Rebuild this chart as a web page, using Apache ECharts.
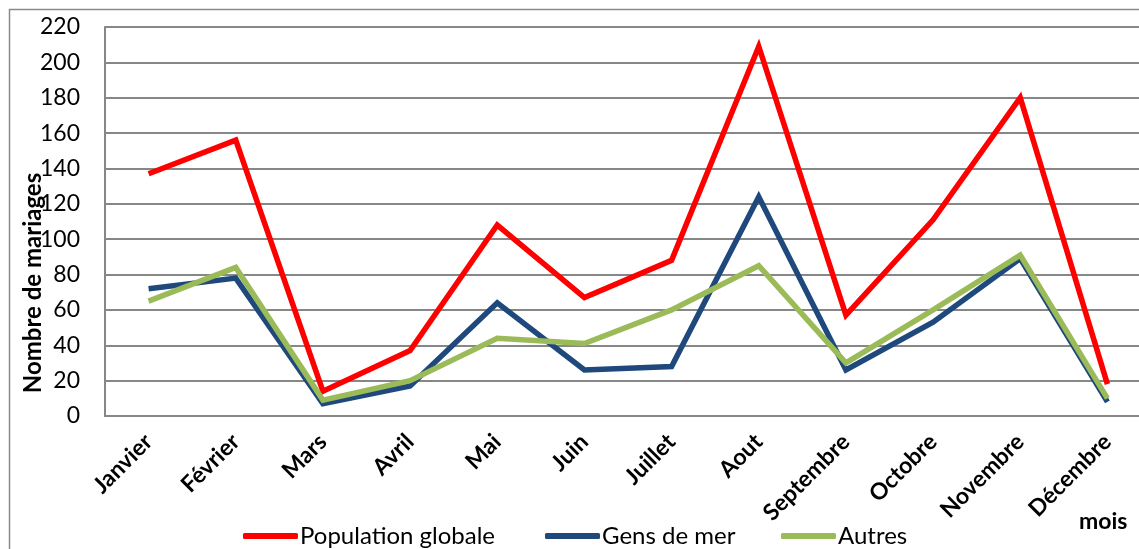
<!DOCTYPE html>
<html>
<head>
<meta charset="utf-8">
<script src="https://cdn.jsdelivr.net/npm/echarts@6/dist/echarts.min.js"></script>
<style>
  html, body { margin: 0; padding: 0; background: #fff; overflow: hidden; }
  #chart { width: 1170px; height: 549px; }
</style>
</head>
<body>
<div id="chart"></div>
<script>
// mois
const months = ["Janvier", "Février", "Mars", "Avril", "Mai", "Juin", "Juillet", "Aout", "Septembre", "Octobre", "Novembre", "Décembre"];
// Nombre de mariages
const populationGlobale = [137, 156, 14, 37, 108, 67, 88, 209, 57, 111, 180, 18];
const gensDeMer = [72, 78, 7, 17, 64, 26, 28, 124, 26, 53, 89, 8];
const autres = [65, 84, 9, 20, 44, 41, 60, 85, 30, 60, 91, 10];
const yTicks = [0, 20, 40, 60, 80, 100, 120, 140, 160, 180, 200, 220];

const font = "Lato, 'Open Sans', sans-serif";
const gridGray = "#878787";

function serie(name, data, color) {
  return {
    name: name,
    type: "line",
    data: data,
    symbol: "none",
    color: color,
    lineStyle: { width: 5.5, color: color, join: "miter" }
  };
}

function legendAt(name, left) {
  return {
    data: [name],
    left: left,
    top: 519,
    icon: "roundRect",
    itemWidth: 55,
    itemHeight: 6,
    itemGap: 6,
    textStyle: { fontFamily: font, fontSize: 24, color: "#000", padding: [0, 0, 0, -3] }
  };
}

const chart = echarts.init(document.getElementById("chart"));
chart.setOption({
  animation: false,
  backgroundColor: "#fff",
  grid: { left: 105, top: 27, right: 19, bottom: 133 },
  legend: [
    legendAt("Population globale", 238),
    legendAt("Gens de mer", 540),
    legendAt("Autres", 776)
  ],
  xAxis: {
    type: "category",
    data: months,
    boundaryGap: true,
    axisLine: { lineStyle: { color: gridGray, width: 2 } },
    axisTick: { show: false },
    axisLabel: {
      rotate: 45,
      margin: 22,
      interval: 0,
      fontFamily: font,
      fontWeight: "bold",
      fontSize: 23,
      color: "#000"
    }
  },
  yAxis: {
    type: "value",
    min: yTicks[0],
    max: yTicks[yTicks.length - 1],
    interval: 20,
    axisLine: { show: true, lineStyle: { color: gridGray, width: 2 } },
    axisTick: { show: false },
    splitLine: { lineStyle: { color: gridGray, width: 2 } },
    axisLabel: { margin: 25, fontFamily: font, fontSize: 23, color: "#000" }
  },
  graphic: [
    {
      type: "rect",
      shape: { x: 9.5, y: 9.5, width: 1300, height: 700 },
      style: { fill: "none", stroke: "#8a8a8a", lineWidth: 1.5 },
      silent: true,
      z: -1
    },
    {
      type: "text",
      x: 33,
      y: 283,
      rotation: Math.PI / 2,
      style: {
        text: "Nombre de mariages",
        fontFamily: font,
        fontWeight: "bold",
        fontSize: 24,
        fill: "#000",
        align: "center",
        verticalAlign: "middle"
      }
    },
    {
      type: "text",
      x: 1079,
      y: 522,
      style: {
        text: "mois",
        fontFamily: font,
        fontWeight: "bold",
        fontSize: 23,
        fill: "#000",
        verticalAlign: "middle"
      }
    }
  ],
  series: [
    serie("Population globale", populationGlobale, "#ff0000"),
    serie("Gens de mer", gensDeMer, "#1f497d"),
    serie("Autres", autres, "#9bbb59")
  ]
});
</script>
</body>
</html>
